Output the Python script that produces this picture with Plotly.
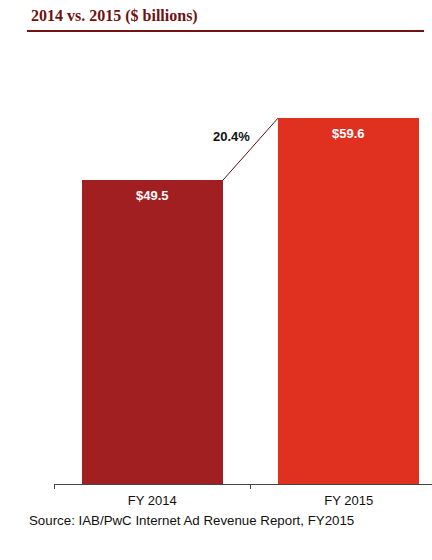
import plotly.graph_objects as go

categories = ["FY 2014", "FY 2015"]
values = [49.5, 59.6]
value_labels = ["$49.5", "$59.6"]
bar_colors = ["#a21f21", "#e03120"]
title_text = "2014 vs. 2015 ($ billions)"
source_text = "Source: IAB/PwC Internet Ad Revenue Report, FY2015"

growth = (values[1] / values[0] - 1) * 100
bar_width = 0.72

W, H = 432, 560
L, T, B = 54, 85, 76
pw, ph = W - L, H - T - B

def px_to_paper_x(px):
    return (px - L) / pw

def px_to_paper_y(py):
    return (H - B - py) / ph

fig = go.Figure()
fig.add_trace(go.Bar(
    x=categories, y=values, width=bar_width,
    marker=dict(color=bar_colors, line=dict(width=0)),
    hoverinfo="x+y",
))

for cat, v, lab in zip(categories, values, value_labels):
    fig.add_annotation(x=cat, y=v, xref="x", yref="y", text="<b>" + lab + "</b>",
                       showarrow=False, yanchor="middle", yshift=-15,
                       font=dict(family="Arial, Liberation Sans", size=13, color="white"))

# connector line between bar tops
fig.add_shape(type="line", xref="x", yref="y",
              x0=0 + bar_width / 2, y0=values[0],
              x1=1 - bar_width / 2, y1=values[1],
              line=dict(color="#5a1010", width=1))

fig.add_annotation(x=0.405, y=(values[0] + values[1]) / 2 + 2, xref="x", yref="y",
                   text="<b>%.1f%%</b>" % growth, showarrow=False,
                   font=dict(family="Arial, Liberation Sans", size=13, color="#111"))

# title and rule
fig.add_annotation(x=px_to_paper_x(29), y=px_to_paper_y(16), xref="paper", yref="paper",
                   text="<b>" + title_text + "</b>",
                   showarrow=False, xanchor="left", yanchor="middle",
                   font=dict(family="Liberation Serif, DejaVu Serif", size=16, color="#6e1212"))
fig.add_shape(type="line", xref="paper", yref="paper",
              x0=px_to_paper_x(27), x1=px_to_paper_x(424),
              y0=px_to_paper_y(31), y1=px_to_paper_y(31),
              line=dict(color="#741111", width=2))

fig.add_annotation(text=source_text, xref="paper", yref="paper",
                   x=px_to_paper_x(27), y=px_to_paper_y(520),
                   showarrow=False, xanchor="left", yanchor="middle",
                   font=dict(family="Arial, Liberation Sans", size=13.3, color="#111"))

fig.update_layout(
    width=W, height=H,
    margin=dict(l=L, r=0, t=T, b=B),
    paper_bgcolor="white", plot_bgcolor="white",
    showlegend=False, bargap=0,
    xaxis=dict(type="category", range=[-0.5, 1.424], tickson="boundaries",
               ticks="outside", ticklen=4, tickcolor="#444", showline=True,
               linecolor="#444", linewidth=1, showgrid=False, ticklabelstandoff=4,
               tickfont=dict(family="Arial, Liberation Sans", size=13, color="#111")),
    yaxis=dict(range=[0, 65], visible=False, showgrid=False),
)

fig.write_html("out.html", config={"displayModeBar": False},
               post_script="document.body.style.margin='0';document.body.style.overflow='hidden';")
